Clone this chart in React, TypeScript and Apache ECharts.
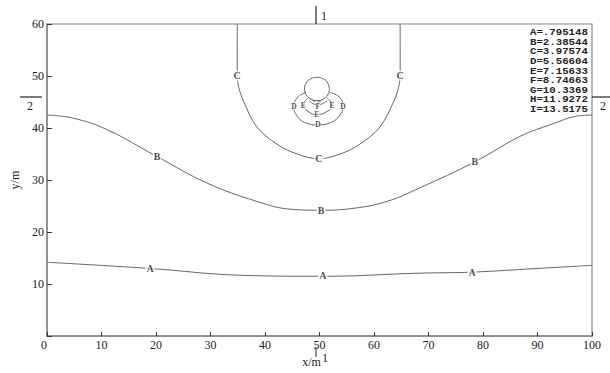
import React, { useEffect, useRef } from "react";
import * as echarts from "echarts";

// x ticks / y ticks
const xTicks = [0, 10, 20, 30, 40, 50, 60, 70, 80, 90, 100];
const yTicks = [0, 10, 20, 30, 40, 50, 60];

// Contour A
const contourAx = [0, 18.9, 35.4, 50.6, 68.4, 78.0, 89.9, 100];
const contourAy = [14.2, 13.0, 11.7, 11.5, 12.1, 12.3, 13.0, 13.6];
// Contour B
const contourBx = [0, 4.8, 11.0, 20.2, 29.4, 38.5, 44.6, 50.3, 56.5, 62.4, 68.4, 78.5, 86.8, 92.8, 97.2, 100];
const contourBy = [42.5, 41.9, 39.7, 34.5, 29.4, 25.9, 24.4, 24.2, 24.6, 25.9, 28.5, 33.5, 38.4, 40.8, 42.3, 42.5];
// Contour C
const contourCx = [34.9, 34.9, 34.9, 35.2, 36.0, 38.5, 42.2, 45.9, 49.9, 53.8, 57.4, 61.1, 63.7, 64.5, 64.8, 64.8, 64.8];
const contourCy = [60, 55.1, 50.1, 47.8, 45.3, 40.2, 36.9, 35.0, 34.1, 35.0, 36.9, 40.2, 45.3, 47.8, 50.1, 55.1, 60];
// Contour D (loop under the circle)
const contourDx = [47.5, 46.1, 45.3, 45.9, 47.5, 49.7, 51.9, 53.6, 54.3, 53.6, 51.9];
const contourDy = [46.8, 46.0, 44.2, 42.3, 41.0, 40.6, 41.0, 42.3, 44.2, 46.0, 46.8];
// Contour E
const contourEx = [47.9, 47.0, 47.9, 49.5, 51.4, 52.3, 51.4];
const contourEy = [45.8, 44.3, 43.2, 42.6, 43.2, 44.3, 45.8];
// Contour F
const contourFx = [48.1, 48.8, 49.7, 50.6, 51.4];
const contourFy = [45.3, 44.7, 44.5, 44.7, 45.3];
// Contour G (tiny)
const contourGx = [48.6, 49.6, 50.8];
const contourGy = [45.5, 45.0, 45.5];
// Circle (source boundary)
const circleX = [51.83, 51.52, 50.7, 49.54, 48.4, 47.56, 47.25, 47.56, 48.4, 49.54, 50.7, 51.52, 51.83];
const circleY = [47.51, 48.63, 49.45, 49.75, 49.45, 48.63, 47.51, 46.39, 45.57, 45.28, 45.57, 46.39, 47.51];

// Contour labels (outer)
const labelText = ["A", "A", "A", "B", "B", "B", "C", "C", "C"];
const labelX = [18.9, 50.6, 78.0, 20.2, 50.3, 78.5, 34.9, 49.9, 64.8];
const labelY = [13.0, 11.7, 12.3, 34.5, 24.2, 33.5, 50.1, 34.1, 50.1];
// Contour labels (inner, near the source)
const innerText = ["D", "D", "D", "E", "E", "E", "F"];
const innerX = [45.3, 54.3, 49.7, 47.0, 52.3, 49.5, 49.7];
const innerY = [44.2, 44.2, 40.6, 44.3, 44.3, 42.55, 44.15];

// Level legend
const levelNames = ["A", "B", "C", "D", "E", "F", "G", "H", "I"];
const levelValues = [".795148", "2.38544", "3.97574", "5.56604", "7.15633", "8.74663", "10.3369", "11.9272", "13.5175"];

const zip = (xs: number[], ys: number[]) => xs.map((x, i) => [x, ys[i]]);

export default function App() {
  const ref = useRef<HTMLDivElement>(null);
  useEffect(() => {
    if (!ref.current) return;
    const chart = echarts.init(ref.current, null, { renderer: "svg" });
    const lineStyle = { color: "#666", width: 1 };
    const mkLine = (name: string, xs: number[], ys: number[], smooth: number, extra: any = {}) => ({
      name,
      type: "line",
      data: zip(xs, ys),
      showSymbol: false,
      symbol: "none",
      smooth,
      lineStyle: { ...lineStyle, ...(extra.lineStyle || {}) },
      silent: true,
      z: 2,
    });
    const serif = "Liberation Serif";
    chart.setOption({
      animation: false,
      backgroundColor: "#fff",
      grid: {
        left: 47,
        right: 18,
        top: 24,
        bottom: 27,
        show: true,
        borderColor: "#888",
        borderWidth: 1.2,
      },
      xAxis: {
        type: "value",
        min: 0,
        max: 100,
        interval: 10,
        name: "x/m",
        nameLocation: "middle",
        nameGap: 11,
        nameTextStyle: { fontFamily: serif, fontSize: 12, color: "#222", padding: [0, 16, 0, 0] },
        axisLine: { show: true, lineStyle: { color: "#888", width: 1.5 } },
        axisTick: { show: true, inside: true, length: 4, lineStyle: { color: "#333" } },
        axisLabel: {
          fontFamily: serif,
          fontSize: 12,
          color: "#222",
          margin: 3,
          alignMinLabel: "right",
          formatter: (v: number) => (xTicks.includes(v) ? String(v) : ""),
        },
        splitLine: { show: false },
      },
      yAxis: {
        type: "value",
        min: 0,
        max: 60,
        interval: 10,
        name: "y/m",
        nameLocation: "middle",
        nameGap: 24,
        nameTextStyle: { fontFamily: serif, fontSize: 12, color: "#222" },
        axisLine: { show: true, lineStyle: { color: "#888", width: 1.5 } },
        axisTick: { show: true, inside: true, length: 5, lineStyle: { color: "#333" } },
        axisLabel: {
          fontFamily: serif,
          fontSize: 12,
          color: "#222",
          margin: 3,
          formatter: (v: number) => (v === 0 ? "" : yTicks.includes(v) ? String(v) : ""),
        },
        splitLine: { show: false },
      },
      series: [
        mkLine("A", contourAx, contourAy, 0.4),
        mkLine("B", contourBx, contourBy, 0.4),
        mkLine("C", contourCx, contourCy, 0.35),
        mkLine("D", contourDx, contourDy, 0.5),
        mkLine("E", contourEx, contourEy, 0.5),
        mkLine("F", contourFx, contourFy, 0.5),
        mkLine("G", contourGx, contourGy, 0.5, { lineStyle: { type: "dashed" } }),
        mkLine("circle", circleX, circleY, 0.5),
        {
          name: "labels",
          type: "scatter",
          data: labelX.map((x, i) => [x, labelY[i], labelText[i]]),
          symbolSize: 1,
          itemStyle: { color: "rgba(0,0,0,0)" },
          silent: true,
          z: 5,
          label: {
            show: true,
            position: "inside",
            formatter: (p: any) => p.data[2],
            fontFamily: serif,
            fontWeight: "bold",
            fontSize: 10,
            color: "#222",
            backgroundColor: "#fff",
            padding: [0, 1],
          },
        },
        {
          name: "innerLabels",
          type: "scatter",
          data: innerX.map((x, i) => [x, innerY[i], innerText[i]]),
          symbolSize: 1,
          itemStyle: { color: "rgba(0,0,0,0)" },
          silent: true,
          z: 5,
          label: {
            show: true,
            position: "inside",
            formatter: (p: any) => p.data[2],
            fontFamily: serif,
            fontWeight: "bold",
            fontSize: 7.5,
            lineHeight: 7.5,
            color: "#222",
            backgroundColor: "#fff",
            padding: 0,
          },
        },
      ],
      graphic: [
        {
          type: "text",
          x: 530,
          y: 28,
          scaleX: 1.13,
          style: {
            text: levelNames.map((n, i) => `${n}=${levelValues[i]}`).join("\n"),
            font: "bold 9.5px 'Liberation Mono'",
            fill: "#222",
            lineHeight: 9.6,
          },
          z: 10,
        },
        { type: "line", shape: { x1: 316, y1: 6, x2: 316, y2: 24 }, style: { stroke: "#222", lineWidth: 1.2 } },
        { type: "text", x: 321, y: 10, style: { text: "1", font: "12px 'Liberation Serif'", fill: "#222" } },
        { type: "line", shape: { x1: 316, y1: 347, x2: 316, y2: 357 }, style: { stroke: "#222", lineWidth: 1 } },
        { type: "text", x: 322, y: 352, style: { text: "1", font: "12px 'Liberation Serif'", fill: "#222" } },
        { type: "line", shape: { x1: 20, y1: 97, x2: 42, y2: 97 }, style: { stroke: "#222", lineWidth: 1.2 } },
        { type: "text", x: 27, y: 100, style: { text: "2", font: "12px 'Liberation Serif'", fill: "#222" } },
        { type: "line", shape: { x1: 592, y1: 97, x2: 610, y2: 97 }, style: { stroke: "#222", lineWidth: 1.2 } },
        { type: "text", x: 600, y: 100, style: { text: "2", font: "12px 'Liberation Serif'", fill: "#222" } },
      ],
    });
    return () => chart.dispose();
  }, []);
  return <div ref={ref} style={{ width: 610, height: 373, position: "absolute", left: 0, top: 0 }} />;
}
